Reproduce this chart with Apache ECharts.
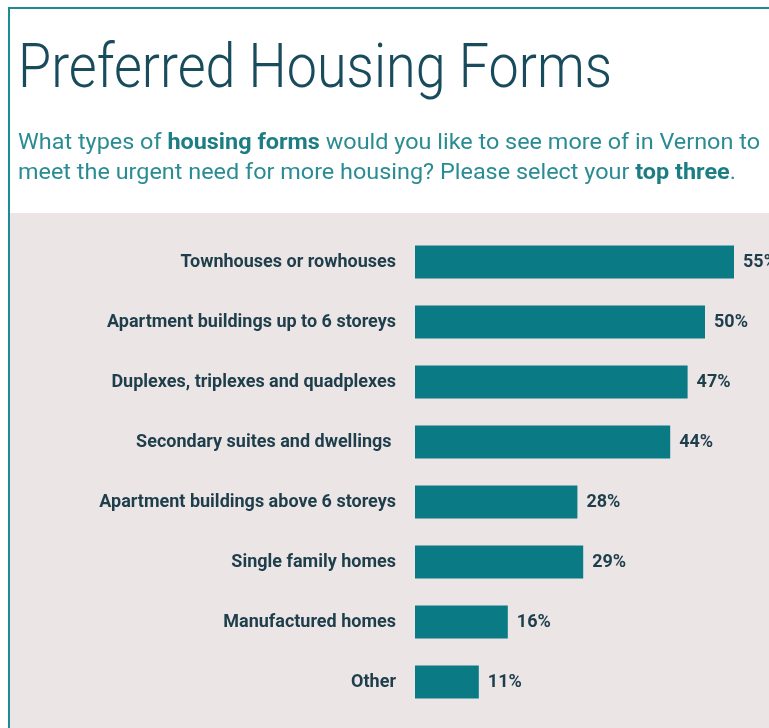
<!DOCTYPE html>
<html>
<head>
<meta charset="utf-8">
<script src="https://cdn.jsdelivr.net/npm/echarts@6/dist/echarts.min.js"></script>
<style>html,body{margin:0;padding:0;background:#fff}#c{width:769px;height:728px}</style>
</head>
<body>
<div id="c"></div>
<script>
const categories = [
  'Townhouses or rowhouses',
  'Apartment buildings up to 6 storeys',
  'Duplexes, triplexes and quadplexes',
  'Secondary suites and dwellings ',
  'Apartment buildings above 6 storeys',
  'Single family homes',
  'Manufactured homes',
  'Other'
];
const values = [55, 50, 47, 44, 28, 29, 16, 11];
const titleText = 'Preferred Housing Forms';
const subLine1 = ['What types of ', 'housing forms', ' would you like to see more of in Vernon to'];
const subLine2 = ['meet the urgent need for more housing? Please select your ', 'top three', '.'];

function measure(font, txt) {
  const c = document.createElement('canvas').getContext('2d');
  c.font = font;
  return c.measureText(txt).width;
}
const titleFont = '300 62px Roboto';
const titleScale = 594 / measure(titleFont, titleText);
const subN = '22px Roboto', subB = 'bold 22px Roboto';
const sub1W = measure(subN, subLine1[0]) + measure(subB, subLine1[1]) + measure(subN, subLine1[2]);
const subScale = 742 / sub1W;

const chart = echarts.init(document.getElementById('c'));
chart.setOption({
  animation: false,
  backgroundColor: '#ffffff',
  graphic: [
    { type: 'rect', shape: { x: 9, y: 213, width: 760, height: 515 }, style: { fill: '#ece5e6' }, z: -10 },
    { type: 'line', shape: { x1: 8, y1: 8, x2: 769, y2: 8 }, style: { stroke: '#1e8a94', lineWidth: 2 } },
    { type: 'line', shape: { x1: 9, y1: 8, x2: 9, y2: 728 }, style: { stroke: '#1e8a94', lineWidth: 2 } },
    { type: 'text', x: 18, y: 40, scaleX: titleScale,
      style: { text: titleText, font: titleFont, fill: '#184b5c' } },
    { type: 'text', x: 18, y: 128, scaleX: subScale,
      style: {
        text: '{n|' + subLine1[0] + '}{b|' + subLine1[1] + '}{n|' + subLine1[2] + '}\n{n|' + subLine2[0] + '}{b|' + subLine2[1] + '}{n|' + subLine2[2] + '}',
        rich: {
          n: { fontFamily: 'Roboto', fontSize: 22, fill: '#2a8c93', lineHeight: 30 },
          b: { fontFamily: 'Roboto', fontSize: 22, fontWeight: 'bold', fill: '#1d7d85', lineHeight: 30 }
        }
      } }
  ],
  grid: { left: 415, top: 232, width: 348, height: 480, containLabel: false },
  xAxis: { type: 'value', min: 0, max: 60, show: false },
  yAxis: {
    type: 'category', data: categories, inverse: true,
    axisLine: { show: false }, axisTick: { show: false }, splitLine: { show: false },
    axisLabel: { margin: 19, fontFamily: 'Roboto', fontWeight: 'bold', fontSize: 18, color: '#1d3e4a' }
  },
  series: [{
    type: 'bar', data: values, barWidth: 33,
    itemStyle: { color: '#0a7a84' },
    label: { show: true, position: 'right', distance: 9, formatter: '{c}%', fontFamily: 'Roboto', fontWeight: 'bold', fontSize: 18, color: '#1d3e4a' }
  }]
});
</script>
</body>
</html>
